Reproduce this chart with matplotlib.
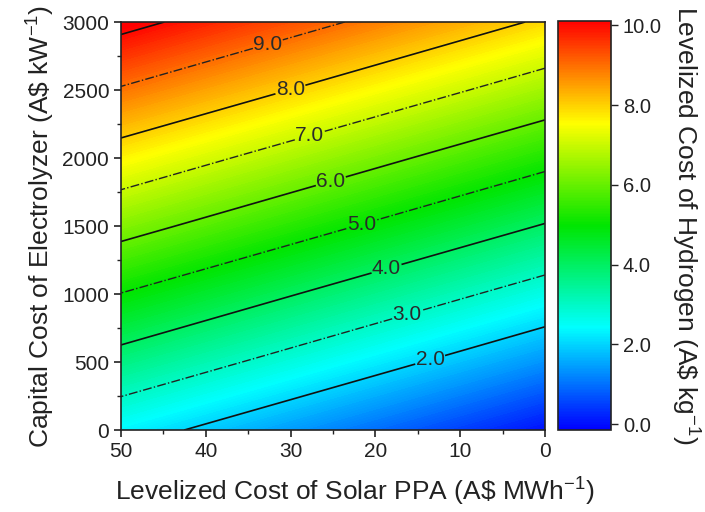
import numpy as np
import matplotlib
matplotlib.use("Agg")
import matplotlib.pyplot as plt
from matplotlib.colors import LinearSegmentedColormap, Normalize

plt.rcParams["font.family"] = ["Liberation Sans", "DejaVu Sans"]
plt.rcParams["mathtext.fontset"] = "custom"
plt.rcParams["mathtext.rm"] = "Liberation Sans"
plt.rcParams["mathtext.it"] = "Liberation Sans"

# Levelized cost of solar PPA (A$/MWh) and electrolyzer capital cost (A$/kW)
ppa = [0, 10, 20, 30, 40, 50]
capex = [0, 500, 1000, 1500, 2000, 2500, 3000]

# Levelized cost of hydrogen (A$/kg); rows follow capex, columns follow ppa
lcoh = [
    [0.00, 0.47, 0.94, 1.41, 1.88, 2.35],
    [1.32, 1.79, 2.26, 2.73, 3.20, 3.67],
    [2.63, 3.10, 3.57, 4.04, 4.51, 4.98],
    [3.95, 4.42, 4.89, 5.36, 5.83, 6.30],
    [5.26, 5.73, 6.20, 6.67, 7.14, 7.61],
    [6.58, 7.05, 7.52, 7.99, 8.46, 8.93],
    [7.89, 8.36, 8.83, 9.30, 9.77, 10.24],
]

solid_levels = [2.0, 4.0, 6.0, 8.0, 10.0]
dashdot_levels = [3.0, 5.0, 7.0, 9.0]
cbar_ticks = [0.0, 2.0, 4.0, 6.0, 8.0, 10.0]

X, Y = np.meshgrid(ppa, capex)
Z = np.array(lcoh)

cmap = LinearSegmentedColormap.from_list(
    "rainbow5",
    [(0.0, (0.0, 0.0, 1.0)),
     (0.25, (0.0, 1.0, 1.0)),
     (0.5, (0.0, 0.9, 0.0)),
     (0.75, (1.0, 1.0, 0.0)),
     (1.0, (1.0, 0.0, 0.0))],
)
norm = Normalize(vmin=-0.15, vmax=10.12)

fig = plt.figure(figsize=(7.05, 5.12), dpi=100)
ax = fig.add_axes([0.1716, 0.160, 0.6014, 0.797])
cax = fig.add_axes([0.7915, 0.160, 0.0752, 0.7996])

# smooth colour fill: many thin filled bands
fill_levels = np.linspace(-0.2, 10.3, 211)
cf = ax.contourf(X, Y, Z, levels=fill_levels, cmap=cmap, norm=norm,
                 antialiased=False)
cf.set_edgecolor("face")
cf.set_linewidth(0.3)

cs_solid = ax.contour(X, Y, Z, levels=solid_levels, colors="#111111",
                      linewidths=1.2, linestyles="solid")
cs_dd = ax.contour(X, Y, Z, levels=dashdot_levels, colors="#222222",
                   linewidths=1.0, linestyles="dashdot")

fmt = lambda v: f"{v:.1f}"
labels_solid = ax.clabel(
    cs_solid, levels=[2.0, 4.0, 6.0, 8.0], fmt=fmt, fontsize=15,
    inline=True, inline_spacing=1, colors="#2a2a2a",
    manual=[(13.6, 530), (18.7, 1190), (25.3, 1840), (30.0, 2500)])
labels_dd = ax.clabel(
    cs_dd, fmt=fmt, fontsize=15, inline=True, inline_spacing=1,
    colors="#2a2a2a",
    manual=[(16.3, 860), (21.7, 1520), (27.8, 2180), (32.6, 2820)])
for t in list(labels_solid) + list(labels_dd):
    t.set_rotation(0)

ax.set_xlim(50, 0)
ax.set_ylim(0, 3000)
ax.set_xticks([50, 40, 30, 20, 10, 0])
ax.set_xticks([45, 35, 25, 15, 5], minor=True)
ax.set_yticks([0, 500, 1000, 1500, 2000, 2500, 3000])
ax.set_yticks([250, 750, 1250, 1750, 2250, 2750], minor=True)
ax.tick_params(which="major", direction="out", length=5, width=1.2,
               labelsize=15, colors="#222222")
ax.tick_params(which="minor", direction="out", length=3, width=1.0,
               colors="#222222")
for sp in ax.spines.values():
    sp.set_linewidth(1.2)
    sp.set_color("#222222")

ax.set_xlabel(r"Levelized Cost of Solar PPA (A\$ MWh$^{-1}$)", fontsize=19,
              color="#222222", va="center")
ax.xaxis.set_label_coords(0.552, -0.152)
ax.set_ylabel(r"Capital Cost of Electrolyzer (A\$ kW$^{-1}$)", fontsize=19,
              color="#222222", labelpad=4)

sm = plt.cm.ScalarMappable(norm=norm, cmap=cmap)
cb = fig.colorbar(sm, cax=cax, ticks=cbar_ticks)
cb.ax.set_yticklabels([f"{t:.1f}" for t in cbar_ticks])
cb.ax.tick_params(direction="out", length=5, width=1.0, labelsize=14.5,
                  colors="#222222")
cb.outline.set_linewidth(1.2)
cb.outline.set_edgecolor("#222222")
cb.set_label(r"Levelized Cost of Hydrogen (A\$ kg$^{-1}$)", fontsize=19,
             color="#222222", rotation=-90, va="center")
cb.ax.yaxis.set_label_coords(2.4, 0.5)

fig.savefig("out.png", dpi=100)
